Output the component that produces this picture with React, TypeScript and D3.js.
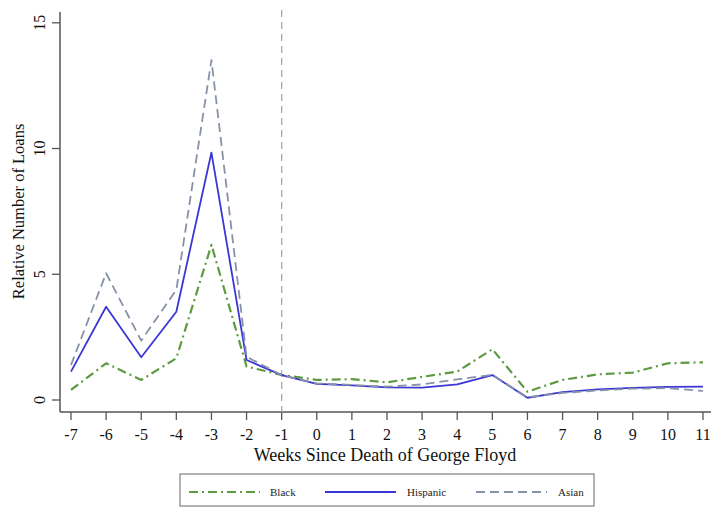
import React from "react";
import * as d3 from "d3";

// Weeks relative to the event
const weeks = [-7, -6, -5, -4, -3, -2, -1, 0, 1, 2, 3, 4, 5, 6, 7, 8, 9, 10, 11];
const blackValues = [0.4, 1.46, 0.8, 1.66, 6.17, 1.33, 1.0, 0.8, 0.83, 0.7, 0.92, 1.13, 2.02, 0.33, 0.8, 1.02, 1.09, 1.46, 1.5];
const hispanicValues = [1.13, 3.71, 1.7, 3.51, 9.84, 1.59, 0.99, 0.64, 0.58, 0.5, 0.49, 0.62, 0.99, 0.09, 0.31, 0.42, 0.48, 0.52, 0.53];
const asianValues = [1.39, 5.04, 2.36, 4.38, 13.52, 1.72, 0.99, 0.66, 0.6, 0.53, 0.62, 0.82, 1.0, 0.11, 0.28, 0.38, 0.45, 0.47, 0.36];
const yTicks = [0, 5, 10, 15];
const eventWeek = -1;

const series = [
  { name: "Black", values: blackValues, color: "#5d9a41", dash: "9,4,2,4", width: 2.2 },
  { name: "Hispanic", values: hispanicValues, color: "#3b37d4", dash: "", width: 1.8 },
  { name: "Asian", values: asianValues, color: "#8792a9", dash: "9,5", width: 1.8 },
];

const W = 711;
const H = 508;
const font = "'Liberation Serif', 'Times New Roman', serif";

export default function App() {
  const x = d3.scaleLinear().domain([-7, 11]).range([71, 703]);
  const y = d3.scaleLinear().domain([0, 15]).range([400, 22.8]);
  const axisX = 60;
  const axisY = 412;

  const line = (vals: number[]) =>
    d3
      .line<number>()
      .x((_, i) => x(weeks[i]))
      .y((v) => y(v))(vals) as string;

  const legendY = 492;
  const legendItems = [
    { x1: 189, x2: 260, tx: 270 },
    { x1: 325, x2: 396, tx: 407 },
    { x1: 476, x2: 547, tx: 558 },
  ];

  return (
    <svg
      width={W}
      height={H}
      style={{ position: "absolute", left: 0, top: 0, background: "#fff" }}
      fontFamily={font}
    >
      <rect x={0} y={0} width={W} height={H} fill="#fff" />

      {/* axes */}
      <line x1={axisX} x2={axisX} y1={12} y2={axisY} stroke="#555" strokeWidth={1.5} />
      <line x1={axisX} x2={711} y1={axisY} y2={axisY} stroke="#555" strokeWidth={1.5} />

      {yTicks.map((t) => (
        <g key={t}>
          <line x1={axisX - 8} x2={axisX} y1={y(t)} y2={y(t)} stroke="#555" strokeWidth={1.3} />
          <text
            transform={`translate(${axisX - 15},${y(t)}) rotate(-90)`}
            textAnchor="middle"
            fontSize={16}
            fill="#111"
          >
            {t}
          </text>
        </g>
      ))}

      {weeks.map((w) => (
        <g key={w}>
          <line x1={x(w)} x2={x(w)} y1={axisY} y2={axisY + 8} stroke="#555" strokeWidth={1.3} />
          <text x={x(w)} y={axisY + 27.5} textAnchor="middle" fontSize={16} fill="#111">
            {w}
          </text>
        </g>
      ))}

      <text x={385} y={461} textAnchor="middle" fontSize={18} fill="#111">
        Weeks Since Death of George Floyd
      </text>
      <text
        transform={`translate(24,${(y(0) + y(15)) / 2}) rotate(-90)`}
        textAnchor="middle"
        fontSize={16.5}
        fill="#111"
      >
        Relative Number of Loans
      </text>

      {/* event marker */}
      <line
        x1={x(eventWeek)}
        x2={x(eventWeek)}
        y1={10}
        y2={axisY}
        stroke="#a8a8a8"
        strokeWidth={1.3}
        strokeDasharray="7,5"
      />

      {series.map((s) => (
        <path
          key={s.name}
          d={line(s.values)}
          fill="none"
          stroke={s.color}
          strokeWidth={s.width}
          strokeDasharray={s.dash || undefined}
          strokeLinejoin="round"
        />
      ))}

      {/* legend */}
      <rect x={180} y={474} width={414} height={32} fill="#fff" stroke="#666" strokeWidth={1} />
      {series.map((s, i) => (
        <g key={s.name}>
          <line
            x1={legendItems[i].x1}
            x2={legendItems[i].x2}
            y1={legendY}
            y2={legendY}
            stroke={s.color}
            strokeWidth={s.width}
            strokeDasharray={s.dash || undefined}
          />
          <text x={legendItems[i].tx} y={legendY + 4} fontSize={11} fill="#222">
            {s.name}
          </text>
        </g>
      ))}
    </svg>
  );
}
